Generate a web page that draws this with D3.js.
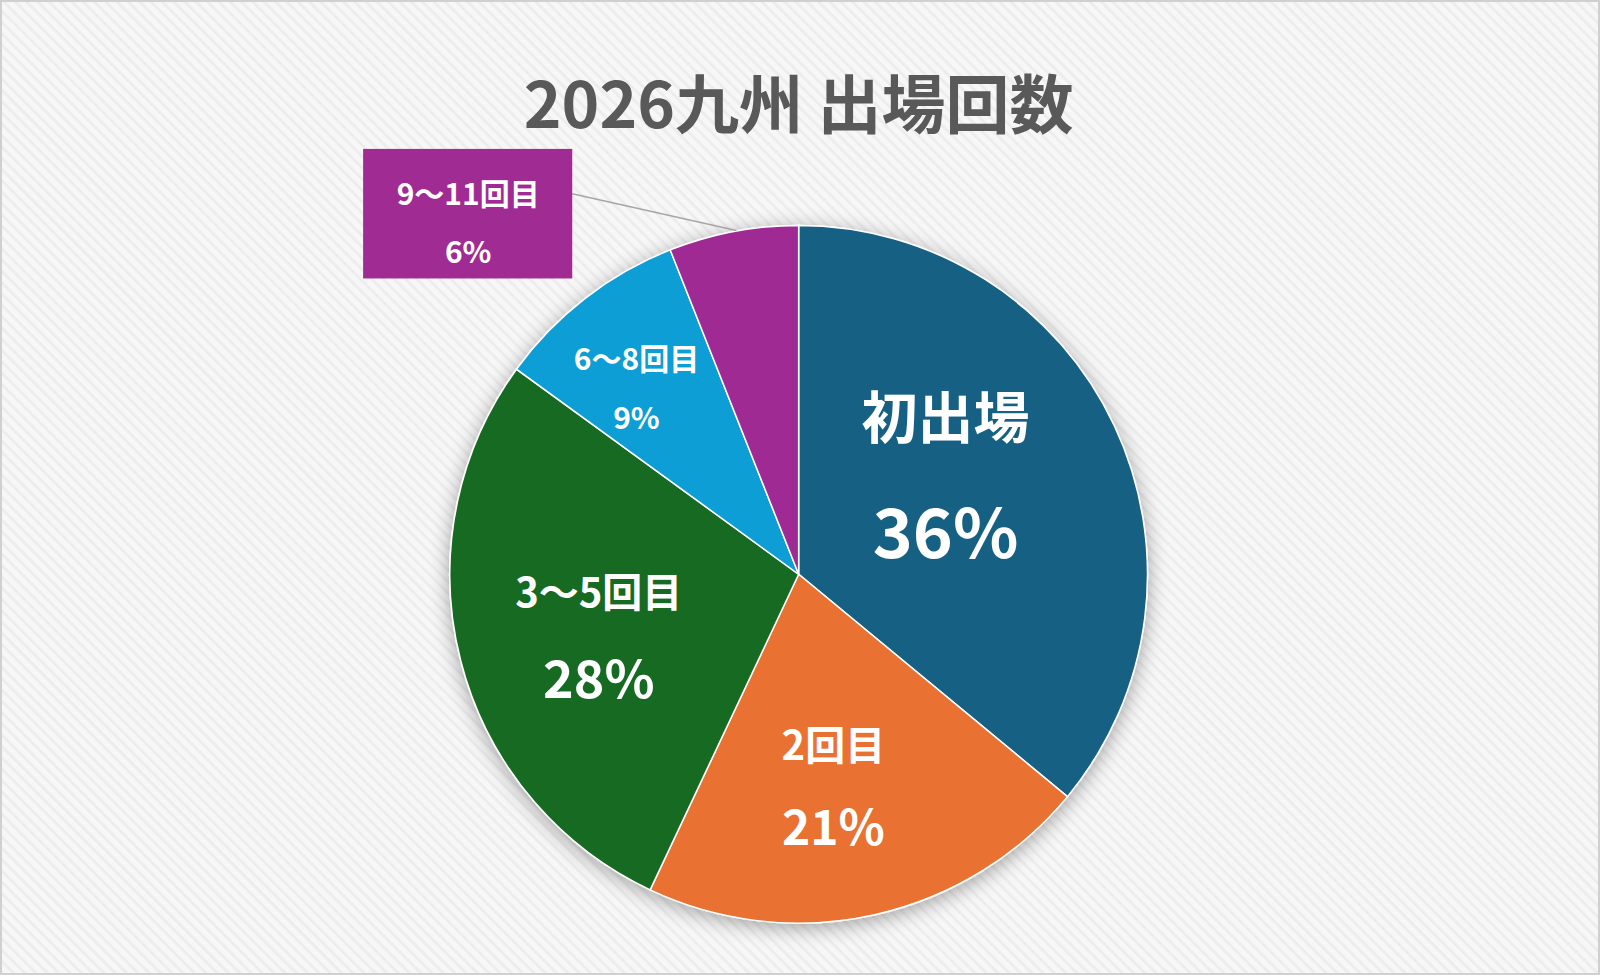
<!DOCTYPE html><html><head><meta charset="utf-8">
<script src="https://cdn.jsdelivr.net/npm/d3@7"></script>
<style>body{margin:0;background:#fff}</style></head><body>
<svg id="c" width="1600" height="975"></svg>
<script>
const categories=["初出場","2回目","3〜5回目","6〜8回目","9〜11回目"];
const values=[36,21,28,9,6];
const colors=["#176083","#e97132","#196b24","#0f9ed5","#a02b93"];
const title="2026九州 出場回数";
const s=1.02;
const svg=d3.select("#c");
const defs=svg.append("defs");
const p=defs.append("pattern").attr("id","st").attr("width",8).attr("height",8).attr("patternUnits","userSpaceOnUse").attr("patternTransform","rotate(-45)");
p.append("rect").attr("width",8).attr("height",8).attr("fill","#f7f7f7");
p.append("rect").attr("width",3).attr("height",8).attr("fill","#ededed");
const f=defs.append("filter").attr("id","sh").attr("x","-20%").attr("y","-20%").attr("width","140%").attr("height","140%");
f.append("feGaussianBlur").attr("in","SourceAlpha").attr("stdDeviation",10);
f.append("feOffset").attr("dy",4).attr("result","b");
f.append("feComponentTransfer").append("feFuncA").attr("type","linear").attr("slope",0.35);
const m=f.append("feMerge");m.append("feMergeNode");m.append("feMergeNode").attr("in","SourceGraphic");
svg.append("rect").attr("x",1).attr("y",1).attr("width",1598).attr("height",973).attr("fill","url(#st)").attr("stroke","#d0d0d0").attr("stroke-width",2);
const font="'Noto Sans CJK JP','Noto Sans',sans-serif";
svg.append("text").attr("x",783*s).attr("y",125*s).attr("text-anchor","middle").attr("font-family",font).attr("font-weight",700).attr("font-size",64).attr("fill","#595959").text(title);
const cx=783*s,cy=563*s,r=342*s;
const pie=d3.pie().sort(null).value(d=>d)(values);
const arc=d3.arc().innerRadius(0).outerRadius(r);
const g=svg.append("g").attr("transform",`translate(${cx},${cy})`);
g.append("g").attr("filter","url(#sh)").selectAll("path").data(pie).join("path").attr("d",arc).attr("fill",(d,i)=>colors[i]).attr("stroke","#fff").attr("stroke-width",1.5);
// label positions (reference pixel coordinates)
const lab=[[927,405,927,518,56,68],[817,728,817,808,40,48],[587,578,587,662,40,52],[624,350,624,408,30,30],[459,188,459,245,30,30]];
// callout box
svg.append("line").attr("x1",561*s).attr("y1",190*s).attr("x2",722*s).attr("y2",226*s).attr("stroke","#a6a6a6").attr("stroke-width",1.5);
svg.append("rect").attr("x",356*s).attr("y",146*s).attr("width",205*s).attr("height",127*s).attr("fill",colors[4]);
lab.forEach((l,i)=>{
 svg.append("text").attr("x",l[0]*s).attr("y",l[1]*s).attr("text-anchor","middle").attr("dominant-baseline","central").attr("font-family",font).attr("font-weight",700).attr("font-size",l[4]).attr("fill","#fff").text(categories[i]);
 svg.append("text").attr("x",l[2]*s).attr("y",l[3]*s).attr("text-anchor","middle").attr("dominant-baseline","central").attr("font-family",font).attr("font-weight",700).attr("font-size",l[5]).attr("fill","#fff").text(values[i]+"%");
});
</script></body></html>
